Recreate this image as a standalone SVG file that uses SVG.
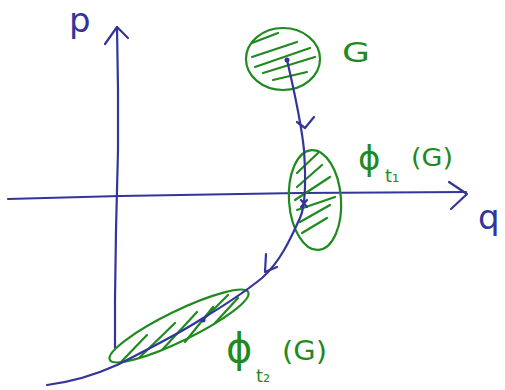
<svg xmlns="http://www.w3.org/2000/svg" width="505" height="390" viewBox="0 0 505 390">
<style>
.b{fill:none;stroke:#34359a;stroke-width:2.2;stroke-linecap:round;stroke-linejoin:round}
.g{fill:none;stroke:#1f8a1f;stroke-width:2.2;stroke-linecap:round;stroke-linejoin:round}
.tb{fill:#34359a;font-family:"DejaVu Sans",sans-serif}
.tg{fill:#1f8a1f;font-family:"DejaVu Sans",sans-serif}
</style>
<rect width="505" height="390" fill="#fff"/>
<g id="axes">
<path class="b" d="M115,348 L115,300 L116,230 L118,150 L118,90 L117,27"/>
<path class="b" d="M105,44 L117,27 L128,38"/>
<path class="b" d="M8,199 L120,196 L300,193 L466,192"/>
<path class="b" d="M449,182 L467,194 L451,209"/>
<text class="tb" x="69" y="32" font-size="34">p</text>
<text class="tb" x="478" y="229" font-size="34">q</text>
</g>
<g id="G">
<ellipse class="g" cx="283" cy="59" rx="37" ry="31"/>
<path class="g" d="M252,43 L278,33 M252,57 L297,42 M255,67 L310,48 M263,73 L315,57 M273,80 L307,72"/>
<text class="tg" x="342" y="62" font-size="26" textLength="28" lengthAdjust="spacingAndGlyphs">G</text>
</g>
<g id="phi1">
<ellipse class="g" cx="315" cy="200" rx="26" ry="50" transform="rotate(-4 315 200)"/>
<path class="g" d="M297,173 L318,153 M297,187 L322,165 M295,200 L330,177 M297,210 L335,197 M300,222 L330,205 M302,233 L327,218"/>
<text class="tg" x="358" y="170" font-size="34">ϕ</text>
<text class="tg" x="385" y="182" font-size="18">t₁</text>
<text class="tg" x="411" y="166" font-size="24" textLength="42" lengthAdjust="spacingAndGlyphs">(G)</text>
</g>
<g id="phi2">
<ellipse class="g" cx="179" cy="326" rx="77" ry="15" transform="rotate(-26 179 326)"/>
<path class="g" d="M120,363 L147,335 M140,357 L175,323 M162,350 L197,312 M185,342 L213,307 M200,323 L228,295 M215,323 L238,298"/>
<text class="tg" x="226" y="362" font-size="40">ϕ</text>
<text class="tg" x="256" y="382" font-size="18">t₂</text>
<text class="tg" x="282" y="360" font-size="27" textLength="45" lengthAdjust="spacingAndGlyphs">(G)</text>
</g>
<g id="connectors">
<path class="b" d="M287,60 C294,90 301,120 304,150 C306,180 306,205 300,218 C290,240 280,262 262,278 C240,296 220,308 200,320 C175,336 150,348 117,365 C95,375 70,382 47,385"/>
<path class="b" d="M297,122 L305,128 L314,117"/>
<path class="b" d="M266,254 L265,272 L277,267"/>
<path class="b" d="M301,200 L307,207 M307,200 L301,207"/>
<circle cx="203" cy="320" r="2.5" fill="#34359a"/>
<circle cx="287" cy="60" r="2.5" fill="#34359a"/>
</g>
</svg>
